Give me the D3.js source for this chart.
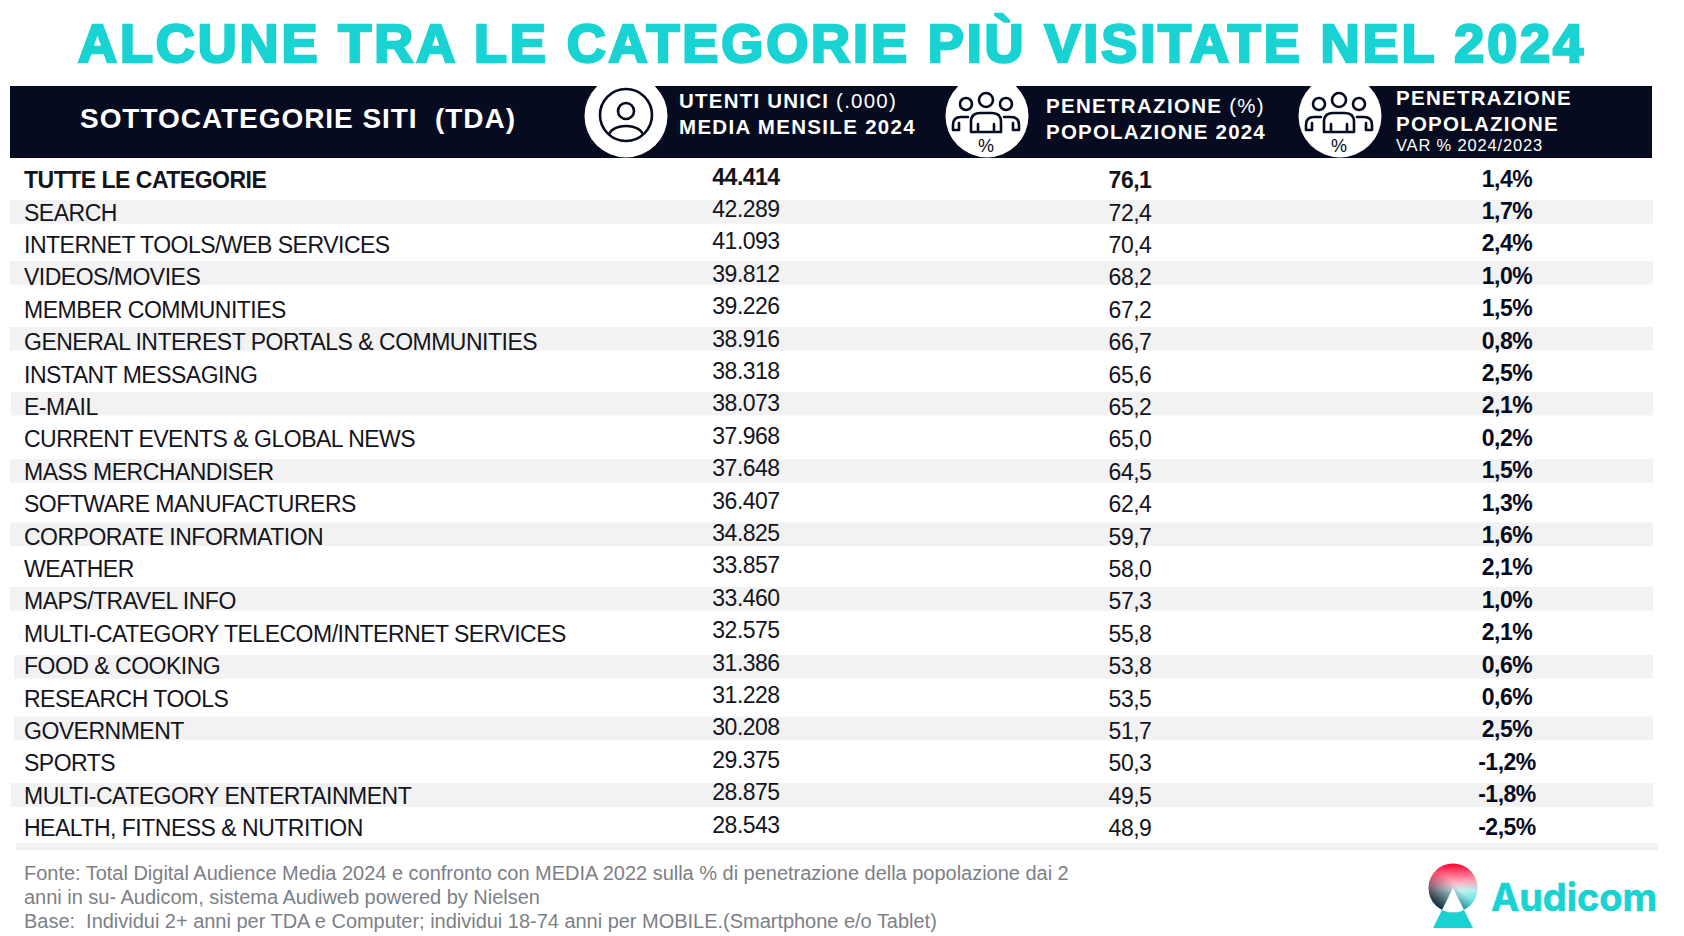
<!DOCTYPE html>
<html lang="it">
<head>
<meta charset="utf-8">
<title>Categorie più visitate 2024</title>
<script src="https://cdn.jsdelivr.net/npm/d3@7"></script>
<style>
  html, body { margin: 0; padding: 0; background: #fff; overflow: hidden; }
  svg { display: block; font-family: "Liberation Sans", Arial, sans-serif; }
  text { white-space: pre; }
</style>
</head>
<body>
<div id="chart"></div>
<script>
const titleText = "ALCUNE TRA LE CATEGORIE PIÙ VISITATE NEL 2024";

const categories = [
  "TUTTE LE CATEGORIE", "SEARCH", "INTERNET TOOLS/WEB SERVICES", "VIDEOS/MOVIES",
  "MEMBER COMMUNITIES", "GENERAL INTEREST PORTALS & COMMUNITIES", "INSTANT MESSAGING",
  "E-MAIL", "CURRENT EVENTS & GLOBAL NEWS", "MASS MERCHANDISER", "SOFTWARE MANUFACTURERS",
  "CORPORATE INFORMATION", "WEATHER", "MAPS/TRAVEL INFO",
  "MULTI-CATEGORY TELECOM/INTERNET SERVICES", "FOOD & COOKING", "RESEARCH TOOLS",
  "GOVERNMENT", "SPORTS", "MULTI-CATEGORY ENTERTAINMENT", "HEALTH, FITNESS & NUTRITION"
];
const utentiUnici = [44414, 42289, 41093, 39812, 39226, 38916, 38318, 38073, 37968, 37648,
  36407, 34825, 33857, 33460, 32575, 31386, 31228, 30208, 29375, 28875, 28543];
const penetrazione = [76.1, 72.4, 70.4, 68.2, 67.2, 66.7, 65.6, 65.2, 65.0, 64.5,
  62.4, 59.7, 58.0, 57.3, 55.8, 53.8, 53.5, 51.7, 50.3, 49.5, 48.9];
const variazione = [1.4, 1.7, 2.4, 1.0, 1.5, 0.8, 2.5, 2.1, 0.2, 1.5,
  1.3, 1.6, 2.1, 1.0, 2.1, 0.6, 0.6, 2.5, -1.2, -1.8, -2.5];

const footnotes = [
  "Fonte: Total Digital Audience Media 2024 e confronto con MEDIA 2022 sulla % di penetrazione della popolazione dai 2",
  "anni in su- Audicom, sistema Audiweb powered by Nielsen",
  "Base:  Individui 2+ anni per TDA e Computer; individui 18-74 anni per MOBILE.(Smartphone e/o Tablet)"
];

const width = 1684, height = 936;
const navy = "#070b20", teal = "#19d3d3", grey = "#f2f2f2", ink = "#14141c";

// the grey stripes are not perfectly regular in the original slide
const stripeNudge = [0, -3.8, -2.6, -2.7, 0, -1.7, -1.8, 1.4, -1.7, 0];
const stripeLeft = [10, 10, 10, 11, 10, 10, 10, 14, 14, 11];

const it = d3.formatLocale({ decimal: ",", thousands: ".", grouping: [3], currency: ["", "€"], minus: "-" });
const fmtUsers = it.format(",d"), fmtPen = it.format(".1f");

const svg = d3.select("#chart").append("svg")
  .attr("width", width)
  .attr("height", height)
  .attr("viewBox", `0 0 ${width} ${height}`);

const defs = svg.append("defs");

// stretch letter spacing so a line covers the same width as in the picture
function fit(sel, target) {
  const len = sel.node().getComputedTextLength();
  const n = sel.text().length;
  sel.style("letter-spacing", `${(target - len) / n}px`);
  return sel;
}

// Title
svg.append("text")
  .attr("x", 78).attr("y", 61.5)
  .attr("fill", teal).attr("stroke", teal).attr("stroke-width", 2.6)
  .attr("font-size", 54).attr("font-weight", 700)
  .text(titleText)
  .call(fit, 1508);

// Header bar
svg.append("rect").attr("x", 10).attr("y", 86).attr("width", 1642).attr("height", 72).attr("fill", navy);

svg.append("text")
  .attr("x", 80).attr("y", 128)
  .attr("fill", "#fff").attr("font-size", 28).attr("font-weight", 700)
  .text("SOTTOCATEGORIE SITI  (TDA)")
  .call(fit, 436);

const headerLines = [
  { x: 679, y: 108, bold: "UTENTI UNICI ", thin: "(.000)", w: 218, size: 20.5 },
  { x: 679, y: 134, bold: "MEDIA MENSILE 2024", thin: "", w: 237, size: 20.5 },
  { x: 1046, y: 113, bold: "PENETRAZIONE ", thin: "(%)", w: 219, size: 20.5 },
  { x: 1046, y: 139, bold: "POPOLAZIONE 2024", thin: "", w: 220, size: 20.5 },
  { x: 1396, y: 105, bold: "PENETRAZIONE", thin: "", w: 176, size: 20.5 },
  { x: 1396, y: 131, bold: "POPOLAZIONE", thin: "", w: 163, size: 20.5 },
  { x: 1396, y: 151, bold: "", thin: "VAR % 2024/2023", w: 147, size: 16.5 }
];
headerLines.forEach(d => {
  const t = svg.append("text").attr("x", d.x).attr("y", d.y)
    .attr("fill", "#fff").attr("font-size", d.size);
  if (d.bold) t.append("tspan").attr("font-weight", 700).text(d.bold);
  if (d.thin) t.append("tspan").text(d.thin);
  fit(t, d.w);
});

// Header icons
const iconStroke = g => g.attr("fill", "none").attr("stroke", navy).attr("stroke-width", 2.6)
  .attr("stroke-linejoin", "round").attr("stroke-linecap", "round");

defs.append("clipPath").attr("id", "header-clip")
  .append("rect").attr("x", 10).attr("y", 86).attr("width", 1642).attr("height", 72);
defs.append("clipPath").attr("id", "person-clip")
  .append("circle").attr("r", 26);

const discs = svg.append("g").attr("clip-path", "url(#header-clip)");
[626, 987, 1340].forEach(cx => {
  discs.append("circle").attr("cx", cx).attr("cy", 116).attr("r", 41.5).attr("fill", "#fff");
});

const person = svg.append("g").attr("transform", "translate(626,115)").call(iconStroke);
person.append("circle").attr("r", 26);
person.append("circle").attr("cy", -4).attr("r", 8);
person.append("ellipse").attr("cy", 21).attr("rx", 17).attr("ry", 10).attr("clip-path", "url(#person-clip)");

[986, 1339].forEach(cx => {
  const g = svg.append("g").attr("transform", `translate(${cx},115)`);
  const s = g.append("g").call(iconStroke);
  s.append("circle").attr("cx", -20).attr("cy", -11).attr("r", 6);
  s.append("circle").attr("cy", -15).attr("r", 7);
  s.append("circle").attr("cx", 20).attr("cy", -11).attr("r", 6);
  s.append("path").attr("d", "M-15,17 V7 Q-15,-2 -6,-2 H6 Q15,-2 15,7 V17 Z M-8,9 V17 M8,9 V17");
  s.append("path").attr("d", "M-18,2 H-25 Q-33,2 -33,10 V15 H-27 V8");
  s.append("path").attr("d", "M18,2 H25 Q33,2 33,10 V15 H27 V8");
  g.append("text").attr("y", 37).attr("text-anchor", "middle")
    .attr("fill", navy).attr("font-size", 18).text("%");
});

// Rows
const y = d3.scaleBand().domain(categories).range([167.6, 848]);
const col = d3.scaleOrdinal().domain(["users", "pen", "var"]).range([746, 1130, 1507]);

const rows = categories.map((name, i) => ({
  name, i, users: utentiUnici[i], pen: penetrazione[i], vari: variazione[i]
}));

svg.append("g").selectAll("rect")
  .data(rows.filter(d => d.i % 2 === 1))
  .join("rect")
  .attr("x", (d, k) => stripeLeft[k])
  .attr("width", (d, k) => 1653 - stripeLeft[k])
  .attr("y", (d, k) => y(d.name) + stripeNudge[k])
  .attr("height", 23.7)
  .attr("fill", grey);

svg.append("rect").attr("x", 16).attr("y", 843).attr("width", 1642).attr("height", 7).attr("fill", grey);

const rowG = svg.append("g").attr("fill", ink).selectAll("g")
  .data(rows)
  .join("g")
  .attr("transform", d => `translate(0,${y(d.name)})`)
  .attr("font-size", 23)
  .style("letter-spacing", "-0.5px");

rowG.append("text")
  .attr("x", 24).attr("y", 20.5)
  .attr("font-weight", d => d.i === 0 ? 700 : 400)
  .text(d => d.name);

rowG.append("text")
  .attr("x", col("users")).attr("y", 17).attr("text-anchor", "middle")
  .attr("font-weight", d => d.i === 0 ? 700 : 400)
  .text(d => fmtUsers(d.users));

rowG.append("text")
  .attr("x", col("pen")).attr("y", 20.5).attr("text-anchor", "middle")
  .attr("font-weight", d => d.i === 0 ? 700 : 400)
  .text(d => fmtPen(d.pen));

rowG.append("text")
  .attr("x", col("var")).attr("y", 19).attr("text-anchor", "middle")
  .attr("font-weight", 700).attr("fill", navy)
  .text(d => fmtPen(d.vari) + "%");

// Footnotes
svg.append("g").selectAll("text")
  .data(footnotes)
  .join("text")
  .attr("x", 24)
  .attr("y", (d, i) => [880, 904, 928][i])
  .attr("fill", "#7c7f86").attr("font-size", 20)
  .style("letter-spacing", "-0.02px")
  .text(d => d);

// Audicom logo
const logoRed = defs.append("linearGradient").attr("id", "logo-red").attr("x1", 0).attr("y1", 0).attr("x2", 0).attr("y2", 1);
logoRed.append("stop").attr("offset", "0%").attr("stop-color", "#ff0033");
logoRed.append("stop").attr("offset", "55%").attr("stop-color", "#ff0033").attr("stop-opacity", 0);
const logoDark = defs.append("linearGradient").attr("id", "logo-dark").attr("x1", 0).attr("y1", 1).attr("x2", 0.75).attr("y2", 0.25);
logoDark.append("stop").attr("offset", "10%").attr("stop-color", "#070b20");
logoDark.append("stop").attr("offset", "75%").attr("stop-color", "#070b20").attr("stop-opacity", 0);
const logoCyan = defs.append("linearGradient").attr("id", "logo-cyan").attr("x1", 0.9).attr("y1", 1).attr("x2", 0.75).attr("y2", 0.35);
logoCyan.append("stop").attr("offset", "0%").attr("stop-color", teal);
logoCyan.append("stop").attr("offset", "100%").attr("stop-color", teal).attr("stop-opacity", 0);
defs.append("clipPath").attr("id", "logo-clip").append("circle").attr("cx", 1453).attr("cy", 888).attr("r", 24.5);

const logo = svg.append("g");
logo.append("path").attr("d", "M1453,888 L1473,928 H1433 Z").attr("fill", teal);
logo.append("circle").attr("cx", 1453).attr("cy", 888).attr("r", 24.5).attr("fill", "#fff");
["logo-cyan", "logo-dark", "logo-red"].forEach(id => {
  logo.append("circle").attr("cx", 1453).attr("cy", 888).attr("r", 24.5).attr("fill", `url(#${id})`);
});
logo.append("path").attr("d", "M1453,888 L1473,928 H1433 Z").attr("fill", "#fff").attr("clip-path", "url(#logo-clip)");

svg.append("text")
  .attr("x", 1491).attr("y", 911)
  .attr("fill", teal).attr("stroke", teal).attr("stroke-width", 0.6)
  .attr("font-family", "Inter, sans-serif").attr("font-size", 38).attr("font-weight", 700)
  .text("Audicom")
  .call(fit, 166);
</script>
</body>
</html>
